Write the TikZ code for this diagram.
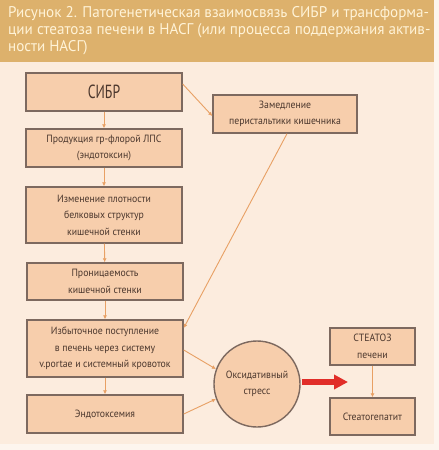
\documentclass[tikz,border=0pt]{standalone}
\usepackage{fontspec}
\setmainfont[FakeStretch=0.93]{PT Sans}
\newfontfamily\titlefont[FakeStretch=0.975]{PT Sans}
\newfontfamily\condfont[FakeStretch=0.72]{PT Sans}
\usetikzlibrary{arrows.meta}
\definecolor{bgc}{RGB}{252,236,222}
\definecolor{bgedge}{RGB}{253,245,238}
\definecolor{titlebar}{RGB}{221,177,108}
\definecolor{titletext}{RGB}{255,243,215}
\definecolor{boxfill}{RGB}{247,206,172}
\definecolor{boxborder}{RGB}{125,105,95}
\definecolor{arrowc}{RGB}{232,160,100}
\definecolor{redc}{RGB}{225,45,40}
\definecolor{txtc}{RGB}{75,55,45}
\tikzset{
  box/.style={draw=boxborder, line width=1.4pt, fill=boxfill, inner sep=0pt,
    align=center, text=txtc, font=\fontsize{10.5}{16.5}\selectfont},
  leftbox/.style={box, minimum width=156pt},
  conn/.style={draw=arrowc, line width=0.9pt, -{Latex[length=4pt,width=4pt]}},
}
\begin{document}
\begin{tikzpicture}[x=1pt,y=-1pt]
\useasboundingbox (0,0) rectangle (439,450);
\fill[bgedge] (0,0) rectangle (439,450);
\fill[bgc] (0,60) rectangle (434,444);
\fill[titlebar] (0,0) rectangle (434,62);
\node[anchor=north west, inner sep=0pt, align=left, text=titletext,
  font=\titlefont\fontsize{15.5}{17}\selectfont] (title) at (8,6)
  {Рисунок 2. Патогенетическая взаимосвязь СИБР и трансформа-\\
   ции стеатоза печени в НАСГ (или процесса поддержания актив-\\
   ности НАСГ)};

\node[leftbox, minimum height=38pt, font=\condfont\fontsize{19}{22}\selectfont] (sibr) at (104,92) {СИБР};
\node[leftbox, minimum height=38pt] (prod) at (104,148) {Продукция гр-флорой ЛПС\\(эндотоксин)};
\node[leftbox, minimum height=56pt] (izm) at (104,215) {Изменение плотности\\белковых структур\\кишечной стенки};
\node[leftbox, minimum height=37pt] (pron) at (105,281.5) {Проницаемость\\кишечной стенки};
\node[leftbox, minimum height=57pt] (izb) at (105,348.5) {Избыточное поступление\\в печень через систему\\v.portae и системный кровоток};
\node[leftbox, minimum height=38pt] (endo) at (105,414) {Эндотоксемия};
\node[box, minimum width=144pt, minimum height=38pt] (zam) at (285,114) {Замедление\\перистальтики кишечника};
\node[box, circle, minimum size=86pt] (oks) at (257,384) {Оксидативный\\стресс};
\node[box, minimum width=85pt, minimum height=37pt] (stz) at (372.5,346.5) {СТЕАТОЗ\\печени};
\node[box, minimum width=85pt, minimum height=37pt] (sth) at (372.5,416.5) {Стеатогепатит};

\draw[conn] (sibr) -- (prod);
\draw[conn] (prod) -- (izm);
\draw[conn] (izm) -- (pron);
\draw[conn] (pron) -- (izb);
\draw[conn] (izb) -- (endo);
\draw[conn] (sibr.east |- 0,84) -- (zam.west |- 0,116);
\draw[conn] (zam.south) ++(2,0) coordinate (zs) (zs) -- (izb.east |- 0,328);
\draw[conn] (izb.east |- 0,350) -- (oks.160);
\draw[conn] (endo.east |- 0,414) -- (oks.200);
\draw[conn] (stz) -- (sth);
\draw[draw=redc, line width=6pt, -{Triangle[length=14pt,width=14pt]}] (oks.east) ++(1,-2) coordinate (os) (os) -- (348,382);
\end{tikzpicture}
\end{document}
